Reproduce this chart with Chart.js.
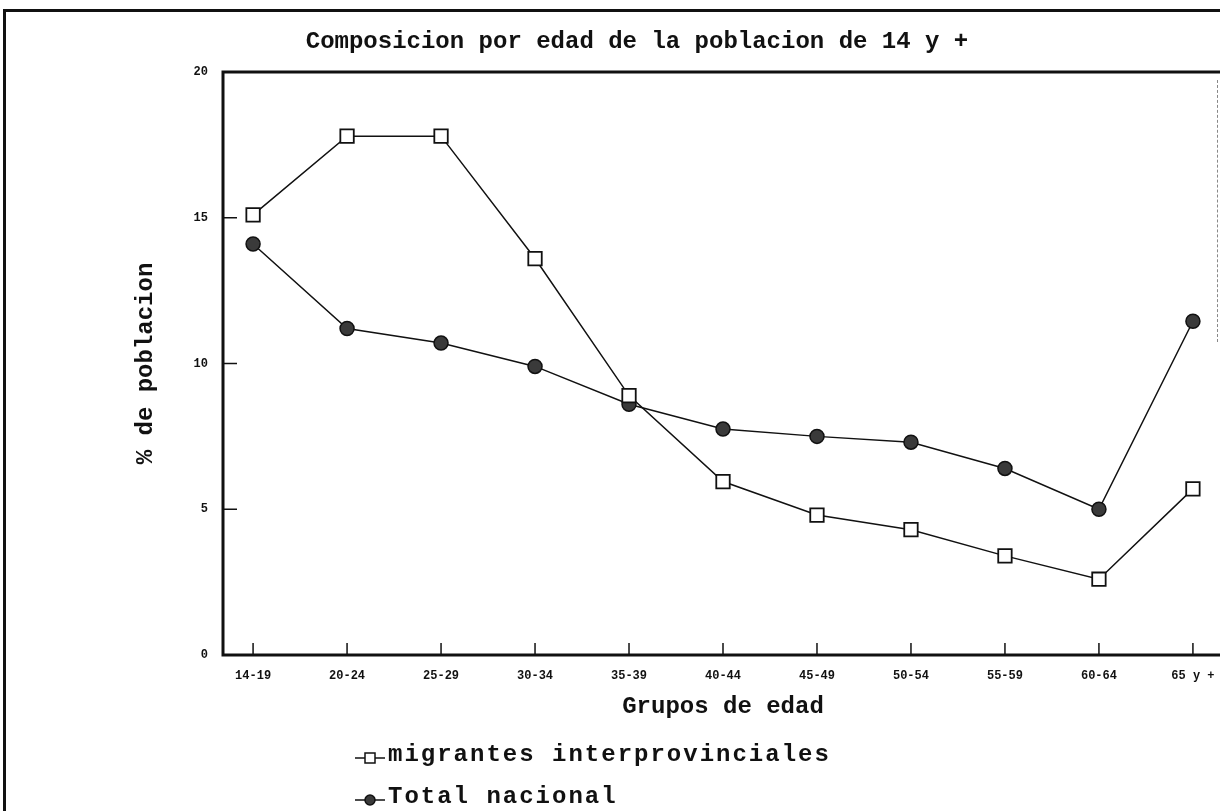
<!DOCTYPE html>
<html>
<head>
<meta charset="utf-8">
<script src="https://cdn.jsdelivr.net/npm/chart.js@4"></script>
<style>
    html, body { margin: 0; padding: 0; background: #fff; overflow: hidden; }
    #wrap { position: absolute; left: 0; top: 0; width: 1250px; height: 811px; }
    #frame { position: absolute; left: 3px; top: 9px; width: 1300px; height: 900px;
             border-top: 3px solid #111; border-left: 3px solid #111; pointer-events: none; }
    #edge { position: absolute; left: 1217px; top: 80px; height: 262px;
            border-left: 1px dashed #888; pointer-events: none; }
</style>
</head>
<body>
<div id="wrap">
    <canvas id="chart" width="1250" height="811"></canvas>
    <div id="frame"></div>
    <div id="edge"></div>
</div>
<script>
// ─── Data ───
const ageGroups = ['14-19', '20-24', '25-29', '30-34', '35-39', '40-44', '45-49', '50-54', '55-59', '60-64', '65 y +'];
const migrantes = [15.1, 17.8, 17.8, 13.6, 8.9, 5.95, 4.8, 4.3, 3.4, 2.6, 5.7];
const totalNacional = [14.1, 11.2, 10.7, 9.9, 8.6, 7.75, 7.5, 7.3, 6.4, 5.0, 11.45];
const yTicks = [0, 5, 10, 15, 20];

const TITLE = 'Composicion por edad de la poblacion de 14 y +';
const MONO = '"Liberation Mono", "DejaVu Sans Mono", monospace';

const toPoints = arr => arr.map((v, i) => ({ x: i, y: v }));

// ─── Frame, inward ticks, title, legend ───
const decorPlugin = {
    id: 'decor',
    afterDatasetsDraw(chart) {
        const { ctx, chartArea: a, scales } = chart;
        ctx.save();
        ctx.strokeStyle = '#111';
        ctx.lineWidth = 3;
        ctx.strokeRect(a.left, a.top, a.right - a.left, a.bottom - a.top);

        ctx.lineWidth = 1.5;
        ctx.beginPath();
        yTicks.forEach(v => {
            const y = scales.y.getPixelForValue(v);
            ctx.moveTo(a.left, y);
            ctx.lineTo(a.left + 14, y);
        });
        ageGroups.forEach((_, i) => {
            const x = scales.x.getPixelForValue(i);
            ctx.moveTo(x, a.bottom);
            ctx.lineTo(x, a.bottom - 12);
        });
        ctx.stroke();
        ctx.restore();
    },
    afterDraw(chart) {
        const { ctx } = chart;
        ctx.save();
        ctx.fillStyle = '#111';
        ctx.textBaseline = 'middle';
        ctx.textAlign = 'center';
        ctx.font = 'bold 24px ' + MONO;
        ctx.fillText(TITLE, 637, 42);

        // legend
        ctx.textAlign = 'left';
        ctx.font = 'bold 24px ' + MONO;
        ctx.letterSpacing = '2px';
        chart.data.datasets.forEach((ds, i) => {
            const y = 755 + i * 42;
            const cx = 370;
            ctx.strokeStyle = '#111';
            ctx.lineWidth = 1.5;
            ctx.beginPath();
            ctx.moveTo(cx - 15, y + 3);
            ctx.lineTo(cx + 15, y + 3);
            ctx.stroke();
            ctx.fillStyle = ds.pointBackgroundColor;
            ctx.beginPath();
            if (ds.pointStyle === 'rect') {
                ctx.rect(cx - 5, y - 2, 10, 10);
            } else {
                ctx.arc(cx, y + 3, 5, 0, Math.PI * 2);
            }
            ctx.fill();
            ctx.stroke();
            ctx.fillStyle = '#111';
            ctx.fillText(ds.label, 388, y);
        });
        ctx.restore();
    }
};

const chart = new Chart(document.getElementById('chart'), {
    type: 'line',
    data: {
        datasets: [
            {
                label: 'migrantes interprovinciales',
                data: toPoints(migrantes),
                borderColor: '#111',
                borderWidth: 1.5,
                pointStyle: 'rect',
                pointRadius: 9.5,
                pointBackgroundColor: '#fff',
                pointBorderColor: '#111',
                pointBorderWidth: 1.8,
                tension: 0
            },
            {
                label: 'Total nacional',
                data: toPoints(totalNacional),
                borderColor: '#111',
                borderWidth: 1.5,
                pointStyle: 'circle',
                pointRadius: 7,
                pointBackgroundColor: '#3a3a3a',
                pointBorderColor: '#111',
                pointBorderWidth: 1.5,
                tension: 0
            }
        ]
    },
    options: {
        responsive: false,
        animation: false,
        events: [],
        layout: { padding: { top: 72, left: 130, right: 27, bottom: 86 } },
        plugins: {
            legend: { display: false },
            title: { display: false },
            tooltip: { enabled: false }
        },
        scales: {
            x: {
                type: 'linear',
                min: -0.32,
                max: 10.32,
                afterFit: s => { s.height = 70; },
                afterBuildTicks: s => { s.ticks = ageGroups.map((_, i) => ({ value: i })); },
                grid: { display: false, drawTicks: false },
                border: { display: false },
                ticks: {
                    padding: 14,
                    maxRotation: 0,
                    autoSkip: false,
                    color: '#111',
                    font: { family: MONO, size: 12, weight: 'bold' },
                    callback: v => ageGroups[v]
                },
                title: {
                    display: true,
                    text: 'Grupos de edad',
                    color: '#111',
                    font: { family: MONO, size: 24, weight: 'bold' },
                    padding: { top: 4, bottom: 4 }
                }
            },
            y: {
                min: 0,
                max: 20,
                afterFit: s => { s.width = 93; },
                afterBuildTicks: s => { s.ticks = yTicks.map(v => ({ value: v })); },
                grid: { display: false, drawTicks: false },
                border: { display: false },
                ticks: {
                    padding: 15,
                    color: '#111',
                    font: { family: MONO, size: 12, weight: 'bold' }
                },
                title: {
                    display: true,
                    text: '% de poblacion',
                    color: '#111',
                    font: { family: MONO, size: 24, weight: 'bold' },
                    padding: { top: 2, bottom: 4 }
                }
            }
        }
    },
    plugins: [decorPlugin]
});
</script>
</body>
</html>
